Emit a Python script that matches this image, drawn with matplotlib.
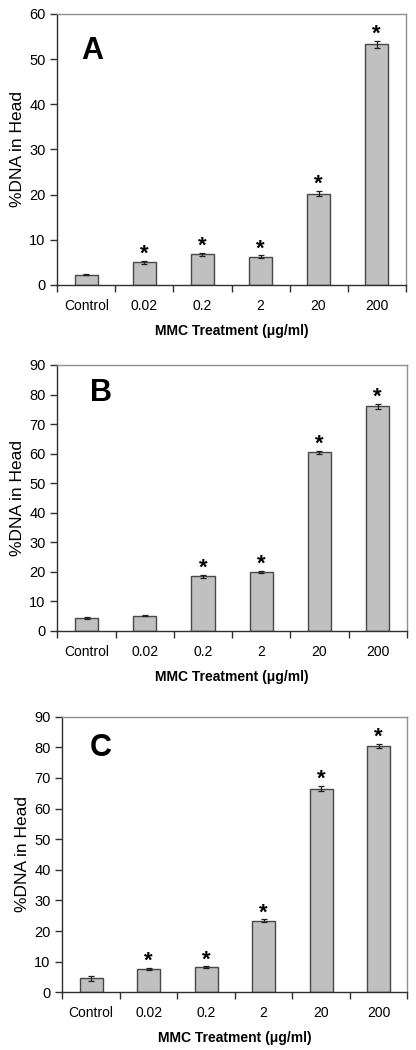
import matplotlib
matplotlib.use("Agg")
import matplotlib.pyplot as plt

plt.rcParams['font.family'] = ['Liberation Sans', 'DejaVu Sans']

categories = ["Control", "0.02", "0.2", "2", "20", "200"]

a_values = [2.3, 5.0, 6.8, 6.3, 20.2, 53.3]
a_errors = [0.15, 0.4, 0.3, 0.3, 0.6, 0.8]
a_sig = [False, True, True, True, True, True]

b_values = [4.3, 5.1, 18.5, 19.9, 60.4, 76.0]
b_errors = [0.2, 0.2, 0.5, 0.4, 0.6, 0.8]
b_sig = [False, False, True, True, True, True]

c_values = [4.5, 7.7, 8.2, 23.4, 66.5, 80.4]
c_errors = [0.7, 0.3, 0.3, 0.4, 0.9, 0.7]
c_sig = [False, True, True, True, True, True]

panels = [
    ("A", a_values, a_errors, a_sig, 60, 10, [0.138, 0.7286, 0.837, 0.2581], (0.068, 0.865)),
    ("B", b_values, b_errors, b_sig, 90, 10, [0.138, 0.3993, 0.840, 0.2531], (0.094, 0.895)),
    ("C", c_values, c_errors, c_sig, 90, 10, [0.150, 0.0550, 0.829, 0.2624], (0.078, 0.885)),
]

fig = plt.figure(figsize=(4.16, 10.5), dpi=100)

for letter, vals, errs, sig, ymax, step, rect, lpos in panels:
    ax = fig.add_axes(rect)
    x = list(range(len(categories)))
    ax.bar(x, vals, width=0.4, color="#c0c0c0", edgecolor="#484848", linewidth=1.0,
           yerr=errs, capsize=2.5, error_kw=dict(ecolor="#202020", elinewidth=0.9, capthick=0.9),
           zorder=2)
    for xi, v, e, s in zip(x, vals, errs, sig):
        if s:
            ax.annotate("*", (xi, v + e), xytext=(0, -3), textcoords="offset points",
                        ha="center", va="bottom", fontsize=16, fontweight="bold")
    ax.set_xlim(-0.5, len(categories) - 0.5)
    ax.set_ylim(0, ymax)
    ax.set_yticks(range(0, ymax + 1, step))
    ax.set_xticks(x)
    ax.set_xticklabels(categories, fontsize=10)
    ax.tick_params(axis="x", length=0, pad=10)
    ax.set_xticks([i + 0.5 for i in range(-1, len(categories))], minor=True)
    ax.tick_params(axis="x", which="minor", length=5, direction="out", width=1, color="#303030")
    ax.tick_params(axis="y", length=5, direction="out", width=1, color="#303030", labelsize=10.5)
    for side in ("top", "right"):
        ax.spines[side].set_color("#909090")
        ax.spines[side].set_linewidth(1.0)
    for side in ("left", "bottom"):
        ax.spines[side].set_color("#303030")
        ax.spines[side].set_linewidth(1.0)
    ax.set_ylabel("%DNA in Head", fontsize=12.5, labelpad=3)
    ax.set_xlabel("MMC Treatment (\u03bcg/ml)", fontsize=10, fontweight="bold", labelpad=8)
    ax.text(lpos[0], lpos[1], letter, transform=ax.transAxes, fontsize=22, fontweight="bold",
            ha="left", va="center")

fig.savefig("out.png", dpi=100)
